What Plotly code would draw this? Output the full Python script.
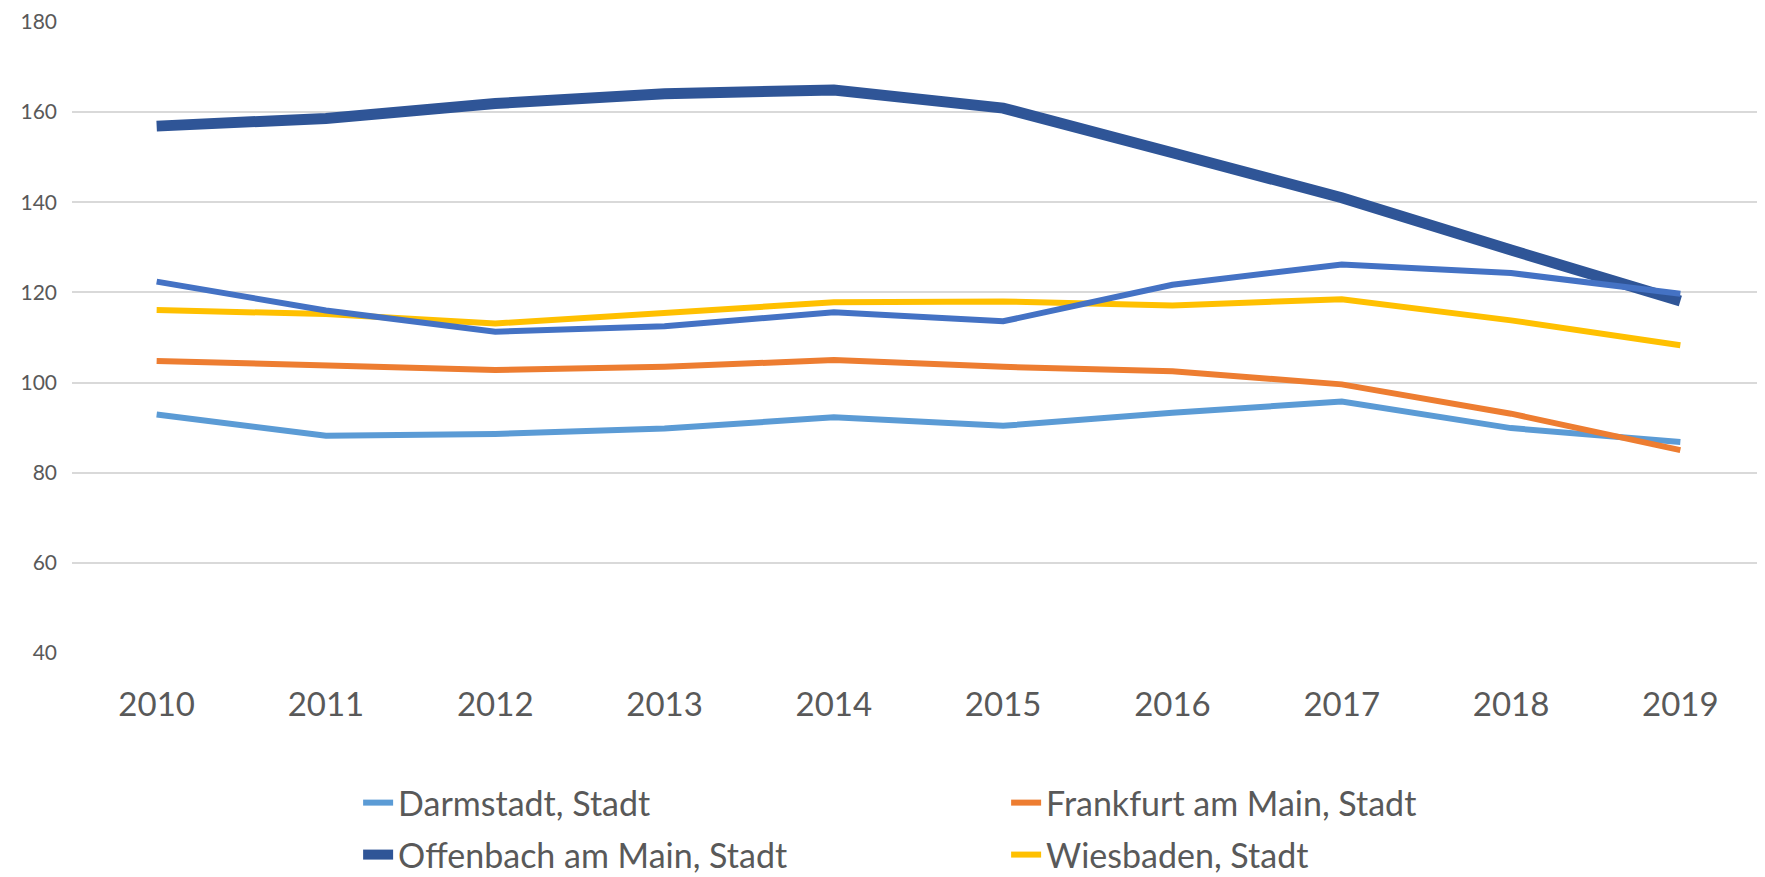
import plotly.graph_objects as go

years = ["2010", "2011", "2012", "2013", "2014", "2015", "2016", "2017", "2018", "2019"]

darmstadt = [92.9, 88.2, 88.6, 89.8, 92.3, 90.4, 93.3, 95.8, 89.9, 86.8]
frankfurt = [104.8, 103.8, 102.8, 103.5, 105.0, 103.5, 102.5, 99.6, 93.1, 85.0]
offenbach = [156.9, 158.6, 161.9, 164.1, 164.9, 160.9, 151.0, 141.0, 129.4, 118.1]
wiesbaden = [116.1, 115.2, 113.1, 115.6, 117.8, 118.0, 117.1, 118.5, 113.8, 108.3]
weitere = [122.4, 116.0, 111.3, 112.5, 115.6, 113.6, 121.7, 126.2, 124.3, 119.7]

names = ["Darmstadt, Stadt", "Frankfurt am Main, Stadt", "Offenbach am Main, Stadt", "Wiesbaden, Stadt"]
y_ticks = [40, 60, 80, 100, 120, 140, 160, 180]

FONT = "Lato, 'Open Sans', sans-serif"
TXT = "#595959"

fig = go.Figure()
series = [
    (names[0], darmstadt, "#5B9BD5", 6, True, "legend"),
    (names[1], frankfurt, "#ED7D31", 6, True, "legend"),
    (names[2], offenbach, "#2F5597", 11, True, "legend2"),
    (names[3], wiesbaden, "#FFC000", 6, True, "legend2"),
    ("Weitere Reihe", weitere, "#4472C4", 6, False, "legend"),
]
for name, vals, color, w, show, leg in series:
    fig.add_trace(go.Scatter(
        x=years, y=vals, name=name, mode="lines",
        line=dict(color=color, width=w),
        showlegend=show, legend=leg,
    ))

legend_common = dict(
    orientation="h", xanchor="left", yanchor="top", yref="container",
    entrywidth=603, font=dict(size=34, color=TXT),
    bgcolor="rgba(0,0,0,0)",
)

fig.update_layout(
    width=1757, height=869,
    margin=dict(l=64, r=0, t=10, b=224),
    paper_bgcolor="white", plot_bgcolor="white",
    font=dict(family=FONT, color=TXT),
    xaxis=dict(
        type="category", range=[-0.5, 9.5],
        showgrid=False, zeroline=False, showline=False,
        tickfont=dict(size=33, color=TXT),
        ticklabelstandoff=29,
    ),
    yaxis=dict(
        range=[40, 180], tickvals=y_ticks,
        showgrid=True, gridcolor="#D9D9D9", gridwidth=2,
        zeroline=False, showline=False,
        tickfont=dict(size=21, color=TXT),
        ticklabelstandoff=14, ticklabeloverflow="allow",
    ),
    legend=dict(x=0.169, y=0.1185, **legend_common),
    legend2=dict(x=0.169, y=0.0587, **legend_common),
)

fig.write_html("out.html")
